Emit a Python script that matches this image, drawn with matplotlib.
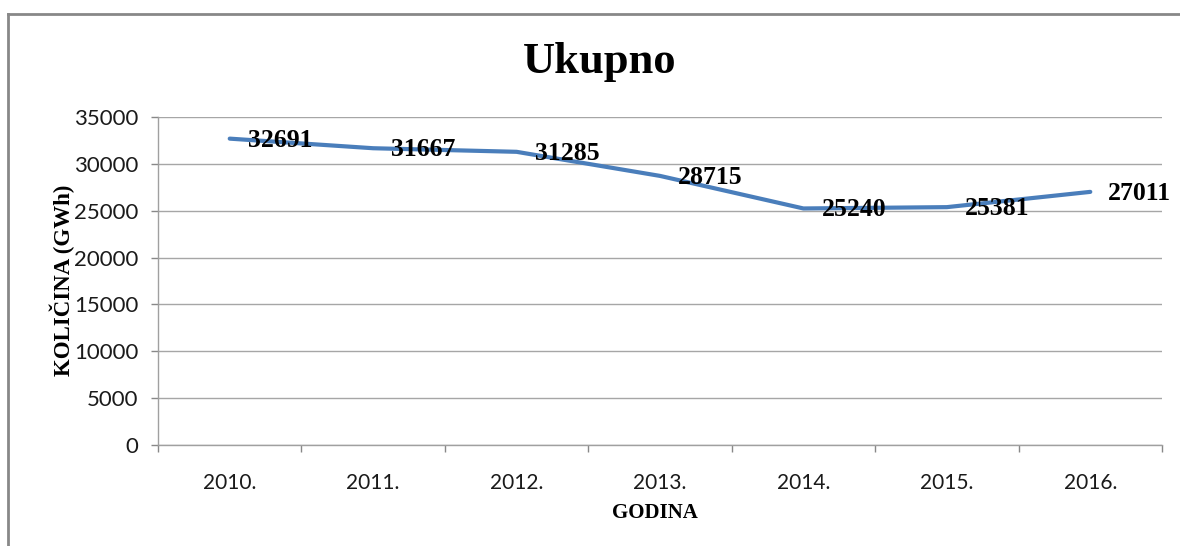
import matplotlib.pyplot as plt
from matplotlib.lines import Line2D

years = ['2010.', '2011.', '2012.', '2013.', '2014.', '2015.', '2016.']
values = [32691, 31667, 31285, 28715, 25240, 25381, 27011]
yticks = [0, 5000, 10000, 15000, 20000, 25000, 30000, 35000]

serif = ['Liberation Serif', 'DejaVu Serif']
sans = ['Lato', 'DejaVu Sans']

fig = plt.figure(figsize=(11.8, 5.46), dpi=100, facecolor='white')
ax = fig.add_axes([158/1180, 1 - 445/546, 1004/1180, 328/546])

xs = list(range(len(years)))
ax.plot(xs, values, color='#4a7ebb', lw=3, solid_capstyle='round', zorder=3)
for x, v in zip(xs, values):
    ax.annotate(str(v), (x, v), xytext=(13, -1), textcoords='offset points',
                ha='left', va='center', fontsize=18.5, fontweight='bold',
                family=serif, color='black', zorder=4)

ax.set_xlim(-0.5, len(years) - 0.5)
ax.set_ylim(0, 35000)
ax.set_yticks(yticks)
ax.set_yticklabels([str(t) for t in yticks], family=sans, fontsize=16, color='#1a1a1a')
ax.set_xticks([i - 0.5 for i in range(len(years) + 1)])
ax.set_xticklabels([])
ax.set_xticks(xs, minor=True)
ax.set_xticklabels(years, minor=True, family=sans, fontsize=15, color='#1a1a1a')
ax.tick_params(axis='x', which='major', length=5, color='#888888', width=1)
ax.tick_params(axis='x', which='minor', length=0, pad=20)
ax.tick_params(axis='y', length=5, color='#888888', width=1, pad=9)

ax.grid(axis='y', color='#a6a6a6', lw=1)
ax.set_axisbelow(True)
for s in ['top', 'right']:
    ax.spines[s].set_visible(False)
for s in ['left', 'bottom']:
    ax.spines[s].set_color('#a0a0a0')
    ax.spines[s].set_linewidth(1)

fig.text(600/1180, 1 - 62/546, 'Ukupno', ha='center', va='center',
         fontsize=32, fontweight='bold', family=serif)
fig.text(62/1180, 1 - 280/546, 'KOLIČINA (GWh)', rotation=90, ha='center',
         va='center', fontsize=16.5, fontweight='bold', family=serif)
fig.text(655/1180, 1 - 513/546, 'GODINA', ha='center', va='center',
         fontsize=15, fontweight='bold', family=serif)

# chart frame (cropped on right and bottom)
fig.add_artist(Line2D([8/1180, 1.0], [1 - 14/546, 1 - 14/546], color='#888888', lw=2))
fig.add_artist(Line2D([8/1180, 8/1180], [0, 1 - 14/546], color='#888888', lw=2))

fig.savefig('out.png', dpi=100)
